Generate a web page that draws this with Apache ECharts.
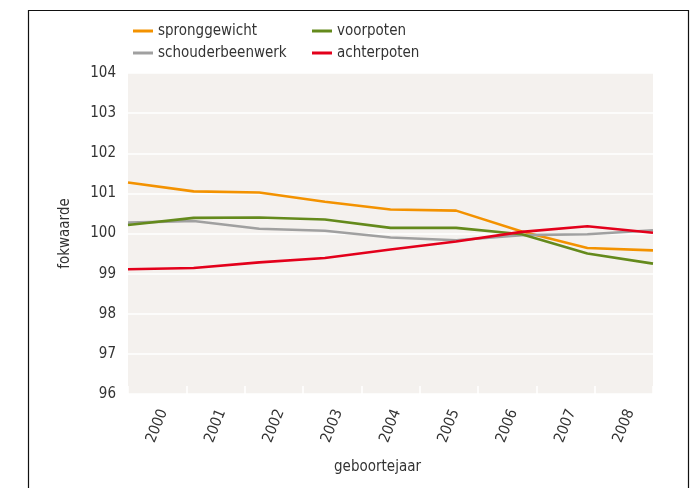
<!DOCTYPE html>
<html>
<head>
<meta charset="utf-8">
<script src="https://cdn.jsdelivr.net/npm/echarts@6/dist/echarts.min.js"></script>
<style>html,body{margin:0;padding:0;background:#fff}#c{width:693px;height:488px}</style>
</head>
<body>
<div id="c"></div>
<script>
var years = ['2000','2001','2002','2003','2004','2005','2006','2007','2008'];
var yTicks = [96, 104, 1];
var spronggewicht = [101.27, 101.05, 101.02, 100.79, 100.60, 100.57, 100.05, 99.64, 99.58];
var schouderbeenwerk = [100.27, 100.31, 100.12, 100.07, 99.90, 99.83, 99.96, 99.98, 100.08];
var voorpoten = [100.21, 100.39, 100.40, 100.35, 100.14, 100.14, 99.98, 99.50, 99.25];
var achterpoten = [99.11, 99.14, 99.28, 99.39, 99.60, 99.80, 100.04, 100.18, 100.02];

var FONT = '"DejaVu Sans Condensed", Roboto, sans-serif';
var FS = 15;
var TXT = '#333333';
var chart = echarts.init(document.getElementById('c'), null, {renderer: 'canvas'});
function line(name, data, color) {
  return {
    name: name, type: 'line', data: data, xAxisIndex: 1,
    symbol: 'none', smooth: false,
    lineStyle: {color: color, width: 2.6},
    itemStyle: {color: color},
    emphasis: {disabled: true}
  };
}
var legendCommon = {
  orient: 'vertical', top: 17, itemWidth: 20, itemHeight: 3, icon: 'rect',
  itemGap: 4,
  textStyle: {fontFamily: FONT, fontSize: FS, color: TXT, lineHeight: 18, padding: [0,0,0,0]},
  selectedMode: false
};
chart.setOption({
  animation: false,
  backgroundColor: '#ffffff',
  graphic: [{
    type: 'rect', left: 26, top: 8, silent: true,
    shape: {width: 660, height: 500},
    style: {fill: 'none', stroke: '#111', lineWidth: 1.2}
  }],
  legend: [
    Object.assign({left: 128, data: ['spronggewicht', 'schouderbeenwerk']}, legendCommon),
    Object.assign({left: 307, data: ['voorpoten', 'achterpoten']}, legendCommon)
  ],
  grid: {left: 128, right: 40, top: 73, bottom: 94, show: true, backgroundColor: '#F4F1EE', borderWidth: 0},
  xAxis: [{
    type: 'category', data: years, boundaryGap: true,
    axisLine: {show: false},
    axisTick: {show: true, inside: true, length: 8, lineStyle: {color: '#ffffff', width: 1.5}},
    axisLabel: {rotate: 68, align: 'center', verticalAlign: 'middle', margin: 32,
      fontFamily: FONT, fontSize: FS, color: TXT},
    splitLine: {show: false},
    name: 'geboortejaar', nameLocation: 'middle', nameGap: 66,
    nameTextStyle: {fontFamily: FONT, fontSize: FS, color: TXT, padding: [0, 26, 0, 0]}
  }, {
    type: 'category', data: years, boundaryGap: false, show: false
  }],
  yAxis: {
    type: 'value', min: yTicks[0], max: yTicks[1], interval: yTicks[2],
    axisLine: {show: false}, axisTick: {show: false},
    axisLabel: {fontFamily: FONT, fontSize: FS, color: TXT, margin: 12},
    splitLine: {show: true, lineStyle: {color: '#ffffff', width: 1.5}},
    name: 'fokwaarde', nameLocation: 'middle', nameGap: 55,
    nameTextStyle: {fontFamily: FONT, fontSize: FS, color: TXT}
  },
  series: [
    line('spronggewicht', spronggewicht, '#F39200'),
    line('schouderbeenwerk', schouderbeenwerk, '#A0A0A0'),
    line('voorpoten', voorpoten, '#648A1C'),
    line('achterpoten', achterpoten, '#E3001B')
  ]
});
</script>
</body>
</html>
